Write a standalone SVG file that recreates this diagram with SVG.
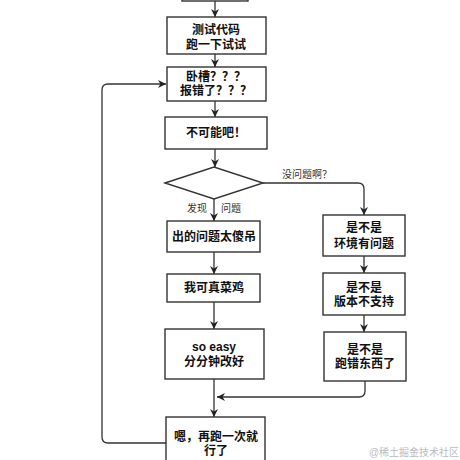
<svg xmlns="http://www.w3.org/2000/svg" width="460" height="460" viewBox="0 0 460 460">
<defs>
<marker id="ah" viewBox="0 0 10 10" refX="10" refY="5" markerWidth="8" markerHeight="8" markerUnits="userSpaceOnUse" orient="auto">
<path d="M0,0 L10,5 L0,10 L3,5 Z" fill="#222"/>
</marker>
<style>
.box{fill:#fff;stroke:#333;stroke-width:1.4}
.t{font-family:"Liberation Sans","Noto Sans CJK SC",sans-serif;font-size:12px;font-weight:bold;fill:#111;text-anchor:middle;dominant-baseline:central}
.l{font-family:"Liberation Sans","Noto Sans CJK SC",sans-serif;font-size:10px;fill:#333;text-anchor:middle;dominant-baseline:central}
.c{fill:none;stroke:#333;stroke-width:1.3;marker-end:url(#ah)}
</style>
</defs>
<rect width="460" height="460" fill="#fff"/>
<g id="connectors">
<path class="c" d="M215,1 V17"/>
<path class="c" d="M215,54 V67"/>
<path class="c" d="M215,101 V117"/>
<path class="c" d="M215,149 V167"/>
<path class="c" d="M214,199 V221"/>
<path class="c" d="M263,183 H358 Q364,183 364,189 V215"/>
<path class="c" d="M214,252 V274"/>
<path class="c" d="M214,302 V329"/>
<path class="c" d="M364,256 V273"/>
<path class="c" d="M364,315 V332"/>
<path class="c" d="M214,379 V417"/>
<path class="c" d="M365,381 V391 Q365,397 359,397 H217"/>
<path class="c" d="M166,443 H108 Q102,443 102,437 V90 Q102,84 108,84 H166"/>
</g>
<g id="n0"><rect class="box" x="182" y="-20" width="66" height="21"/></g>
<g id="n1"><rect class="box" x="167" y="17" width="99" height="37"/>
<text class="t" x="216" y="30">测试代码</text><text class="t" x="216" y="45">跑一下试试</text></g>
<g id="n2"><rect class="box" x="167" y="67" width="99" height="34"/>
<text class="t" x="216" y="77">卧槽？？？</text><text class="t" x="216" y="91">报错了？？？</text></g>
<g id="n3"><rect class="box" x="165" y="117" width="102" height="32"/>
<text class="t" x="216" y="133">不可能吧！</text></g>
<g id="n4"><polygon class="box" points="165,183 214,167 263,183 214,199"/></g>
<g id="labels">
<text class="l" x="307" y="174">没问题啊？</text>
<text class="l" x="197" y="208">发现</text>
<text class="l" x="231" y="208">问题</text>
</g>
<g id="n5"><rect class="box" x="167" y="221" width="93" height="31"/>
<text class="t" x="214" y="237">出的问题太傻吊</text></g>
<g id="n6"><rect class="box" x="167" y="274" width="93" height="28"/>
<text class="t" x="214" y="288">我可真菜鸡</text></g>
<g id="n7"><rect class="box" x="165" y="329" width="99" height="50"/>
<text class="t" x="214" y="347">so easy</text><text class="t" x="214" y="362">分分钟改好</text></g>
<g id="n8"><rect class="box" x="166" y="417" width="99" height="60"/>
<text class="t" x="216" y="437">嗯，再跑一次就</text><text class="t" x="216" y="451">行了</text></g>
<g id="n9"><rect class="box" x="323" y="215" width="82" height="41"/>
<text class="t" x="364" y="228">是不是</text><text class="t" x="364" y="244">环境有问题</text></g>
<g id="n10"><rect class="box" x="323" y="273" width="82" height="42"/>
<text class="t" x="364" y="288">是不是</text><text class="t" x="364" y="302">版本不支持</text></g>
<g id="n11"><rect class="box" x="324" y="332" width="82" height="49"/>
<text class="t" x="365" y="350">是不是</text><text class="t" x="365" y="364">跑错东西了</text></g>
<text x="414" y="452" font-family="Liberation Sans,Noto Sans CJK SC,sans-serif" font-size="10" fill="#bbb" text-anchor="middle" dominant-baseline="central">@稀土掘金技术社区</text>
</svg>
